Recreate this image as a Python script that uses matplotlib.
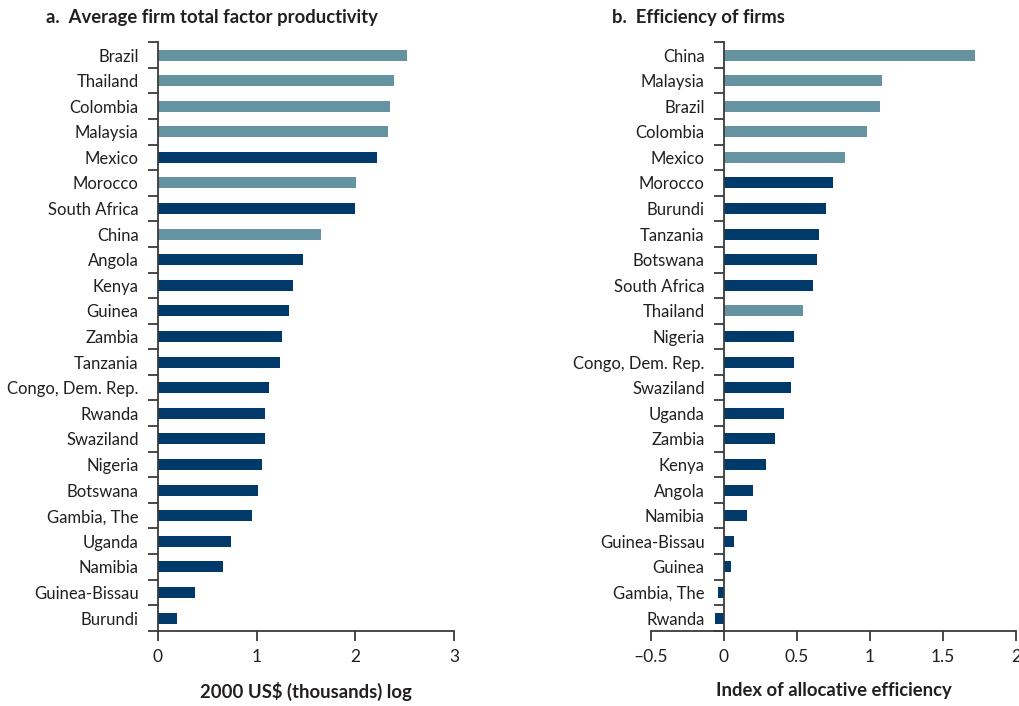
import matplotlib
matplotlib.use("Agg")
import matplotlib.pyplot as plt
import numpy as np

# Panel a data
a_countries = ["Brazil", "Thailand", "Colombia", "Malaysia", "Mexico", "Morocco",
               "South Africa", "China", "Angola", "Kenya", "Guinea", "Zambia",
               "Tanzania", "Congo, Dem. Rep.", "Rwanda", "Swaziland", "Nigeria",
               "Botswana", "Gambia, The", "Uganda", "Namibia", "Guinea-Bissau", "Burundi"]
a_values = [2.52, 2.39, 2.35, 2.33, 2.22, 2.01, 2.00, 1.65, 1.47, 1.37, 1.33, 1.26,
            1.24, 1.13, 1.08, 1.08, 1.05, 1.01, 0.95, 0.74, 0.66, 0.37, 0.19]
a_highlight = ["Brazil", "Thailand", "Colombia", "Malaysia", "Morocco", "China"]

# Panel b data
b_countries = ["China", "Malaysia", "Brazil", "Colombia", "Mexico", "Morocco", "Burundi",
               "Tanzania", "Botswana", "South Africa", "Thailand", "Nigeria",
               "Congo, Dem. Rep.", "Swaziland", "Uganda", "Zambia", "Kenya", "Angola",
               "Namibia", "Guinea-Bissau", "Guinea", "Gambia, The", "Rwanda"]
b_values = [1.72, 1.08, 1.07, 0.98, 0.83, 0.75, 0.70, 0.65, 0.64, 0.61, 0.54, 0.48,
            0.48, 0.46, 0.41, 0.35, 0.29, 0.20, 0.16, 0.07, 0.05, -0.04, -0.06]
b_highlight = ["China", "Malaysia", "Brazil", "Colombia", "Mexico", "Thailand"]

a_xticks = [0, 1, 2, 3]
a_xticklabels = ["0", "1", "2", "3"]
b_xticks = [-0.5, 0, 0.5, 1, 1.5, 2]
b_xticklabels = ["\u20130.5", "0", "0.5", "1", "1.5", "2"]

DARK = "#003a6b"
LIGHT = "#6693a0"
TEXT = "#231f20"
SPINE = "#3a3a3a"

plt.rcParams['font.family'] = ['Lato', 'DejaVu Sans']
plt.rcParams['text.color'] = TEXT

fig = plt.figure(figsize=(10.2, 7.06), dpi=100)
ax1 = fig.add_axes([0.1549, 0.1065, 0.2902, 0.8337])
ax2 = fig.add_axes([0.6382, 0.1065, 0.3578, 0.8337])


def draw(ax, countries, values, highlight, xticks, xticklabels, xlim, xlabel):
    n = len(countries)
    pos = np.arange(n)
    colors = [LIGHT if c in highlight else DARK for c in countries]
    ax.barh(pos, values, height=0.43, color=colors, zorder=1)
    ax.set_ylim(n - 0.5, -0.5)
    ax.set_xlim(*xlim)
    for s in ["top", "right"]:
        ax.spines[s].set_visible(False)
    ax.spines["left"].set_position(("data", 0))
    for s in ["left", "bottom"]:
        ax.spines[s].set_color(SPINE)
        ax.spines[s].set_linewidth(1.3)
        ax.spines[s].set_zorder(3)
    ax.set_yticks(pos)
    ax.set_yticklabels(countries, fontsize=12.0, color=TEXT)
    ax.set_yticks(np.arange(n + 1) - 0.5, minor=True)
    ax.tick_params(axis="y", which="major", length=0, pad=14)
    ax.tick_params(axis="y", which="minor", length=7, width=1.3, color=SPINE, direction="out")
    ax.set_xticks(xticks)
    ax.set_xticklabels(xticklabels, fontsize=12.5, color=TEXT)
    ax.tick_params(axis="x", length=7, width=1.3, color=SPINE, direction="out", pad=6)
    ax.set_xlabel(xlabel, fontsize=13.3, fontweight="bold", color=TEXT, labelpad=12)


draw(ax1, a_countries, a_values, a_highlight, a_xticks, a_xticklabels, (0, 3),
     "2000 US$ (thousands) log")
draw(ax2, b_countries, b_values, b_highlight, b_xticks, b_xticklabels, (-0.5, 2),
     "Index of allocative efficiency")

fig.text(46 / 1020, 1 - 18 / 706, "a.  Average firm total factor productivity",
         fontsize=13.3, fontweight="bold", color=TEXT, ha="left", va="center")
fig.text(612 / 1020, 1 - 18 / 706, "b.  Efficiency of firms",
         fontsize=13.3, fontweight="bold", color=TEXT, ha="left", va="center")

fig.savefig("out.png", dpi=100, facecolor="white")
